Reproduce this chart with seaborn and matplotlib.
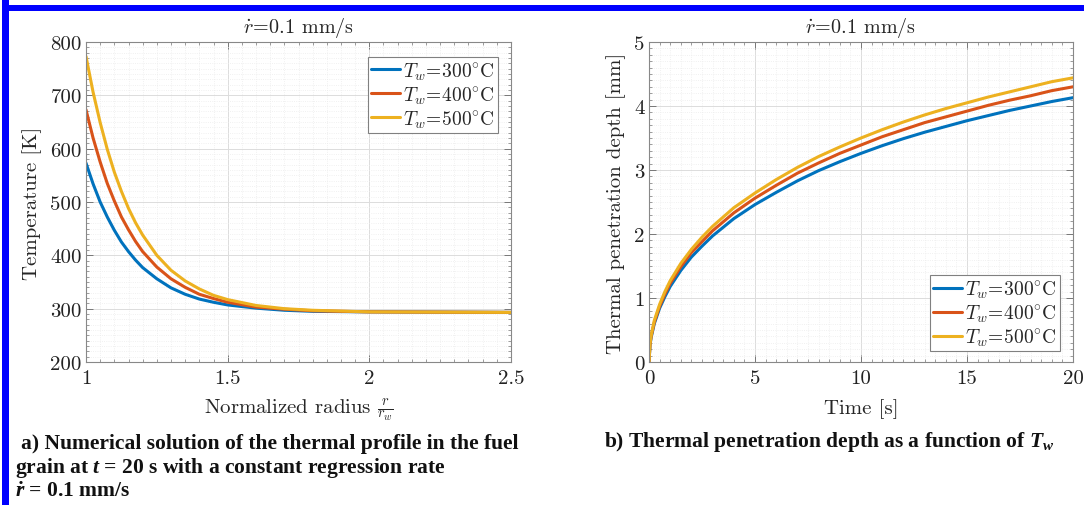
import matplotlib
matplotlib.use("Agg")
import matplotlib.pyplot as plt
import numpy as np
import pandas as pd
import seaborn as sns
from matplotlib.ticker import MultipleLocator, FuncFormatter
from matplotlib.patches import Rectangle

# ---------------------------------------------------------------------------
# Data
# ---------------------------------------------------------------------------
wall_labels = [r"$T_w\!=\!300^{\circ}\mathrm{C}$",
               r"$T_w\!=\!400^{\circ}\mathrm{C}$",
               r"$T_w\!=\!500^{\circ}\mathrm{C}$"]
line_colors = ["#0072BD", "#D95319", "#EDB120"]

# (a) temperature profile at t = 20 s
radius = [1.00, 1.025, 1.05, 1.075, 1.10, 1.125, 1.15, 1.175, 1.20, 1.25,
          1.30, 1.35, 1.40, 1.45, 1.50, 1.60, 1.70, 1.80, 2.00, 2.50]
temp_300 = [573, 534, 500, 472, 447, 425, 407, 391, 377, 356,
            339, 327, 318, 312, 307, 301, 297, 295, 294, 293]
temp_400 = [673, 620, 575, 535, 502, 472, 448, 426, 407, 378,
            356, 340, 327, 319, 312, 303, 299, 296, 294, 293]
temp_500 = [773, 706, 649, 599, 556, 520, 488, 461, 438, 400,
            372, 352, 337, 325, 317, 306, 300, 297, 294, 293]

# (b) thermal penetration depth vs time
time_s = [0, 0.05, 0.1, 0.25, 0.5, 0.75, 1, 1.5, 2, 2.5, 3, 4, 5, 6, 7, 8,
          9, 10, 11, 12, 13, 14, 15, 16, 17, 18, 19, 20]
depth_300 = [0, 0.27, 0.38, 0.60, 0.84, 1.02, 1.18, 1.43, 1.64, 1.81, 1.97,
             2.24, 2.46, 2.65, 2.83, 2.99, 3.13, 3.26, 3.38, 3.49, 3.59, 3.68,
             3.77, 3.85, 3.93, 4.00, 4.07, 4.13]
depth_400 = [0, 0.28, 0.40, 0.62, 0.87, 1.06, 1.23, 1.49, 1.71, 1.88, 2.05,
             2.33, 2.56, 2.76, 2.95, 3.11, 3.26, 3.39, 3.52, 3.63, 3.74, 3.83,
             3.92, 4.01, 4.09, 4.16, 4.24, 4.30]
depth_500 = [0, 0.29, 0.41, 0.65, 0.90, 1.10, 1.27, 1.54, 1.76, 1.95, 2.12,
             2.41, 2.64, 2.85, 3.04, 3.21, 3.36, 3.50, 3.63, 3.75, 3.86, 3.96,
             4.05, 4.14, 4.22, 4.30, 4.38, 4.44]

# ---------------------------------------------------------------------------
# Style
# ---------------------------------------------------------------------------
sns.set_theme(style="ticks")
plt.rcParams.update({
    "font.family": ["cmr10"],
    "mathtext.fontset": "cm",
    "axes.formatter.use_mathtext": True,
    "axes.unicode_minus": False,
    # bold Times-like math for the panel captions
    "mathtext.rm": "Liberation Serif:weight=bold",
    "mathtext.it": "Liberation Serif:style=italic:weight=bold",
    "mathtext.bf": "Liberation Serif:weight=bold",
})

W, H = 1084, 506
fig = plt.figure(figsize=(W / 100, H / 100), dpi=100)
ax1 = fig.add_axes([86 / W, 1 - 363 / H, 425 / W, 320 / H])
ax2 = fig.add_axes([649 / W, 1 - 363 / H, 424 / W, 320 / H])

df_temp = pd.concat([
    pd.DataFrame({"r": radius, "T": t, "case": lab})
    for t, lab in zip([temp_300, temp_400, temp_500], wall_labels)
])
df_depth = pd.concat([
    pd.DataFrame({"t": time_s, "d": d, "case": lab})
    for d, lab in zip([depth_300, depth_400, depth_500], wall_labels)
])

sns.lineplot(data=df_temp, x="r", y="T", hue="case", palette=line_colors,
             linewidth=2.2, ax=ax1, legend=False, estimator=None)
sns.lineplot(data=df_depth, x="t", y="d", hue="case", palette=line_colors,
             linewidth=2.2, ax=ax2, legend=False, estimator=None)

TICK_FS = 15
LABEL_FS = 15
short_fmt = FuncFormatter(lambda v, _: f"{v:g}")


def style_axes(ax, xmaj, xmin, ymaj, ymin):
    ax.xaxis.set_major_locator(MultipleLocator(xmaj))
    ax.xaxis.set_minor_locator(MultipleLocator(xmin))
    ax.yaxis.set_major_locator(MultipleLocator(ymaj))
    ax.yaxis.set_minor_locator(MultipleLocator(ymin))
    ax.xaxis.set_major_formatter(short_fmt)
    ax.yaxis.set_major_formatter(short_fmt)
    ax.set_axisbelow(True)
    ax.grid(which="major", color="#dcdcdc", linewidth=0.7)
    ax.grid(which="minor", color="#ececec", linewidth=0.6, linestyle=":")
    ax.tick_params(which="both", direction="in", top=True, right=True,
                   color="#777777", labelcolor="#222222", labelsize=TICK_FS)
    ax.tick_params(which="major", length=5, width=0.7)
    ax.tick_params(which="minor", length=2.5, width=0.5)
    ax.tick_params(axis="x", which="major", pad=5)
    ax.tick_params(axis="y", which="major", pad=3)
    for sp in ax.spines.values():
        sp.set_color("#888888")
        sp.set_linewidth(0.8)


style_axes(ax1, 0.5, 0.05, 100, 10)
ax1.set_xlim(1, 2.5)
ax1.set_ylim(200, 800)
ax1.set_xlabel(r"Normalized radius $\frac{r}{r_w}$", fontsize=LABEL_FS, labelpad=6)
ax1.set_ylabel("Temperature [K]", fontsize=LABEL_FS, labelpad=6)
ax1.set_title(r"$\dot{r}\!=\!0.1$ mm/s", fontsize=14.5, pad=7)

style_axes(ax2, 5, 0.5, 1, 0.1)
ax2.set_xlim(0, 20)
ax2.set_ylim(0, 5)
ax2.set_xlabel("Time [s]", fontsize=LABEL_FS, labelpad=8)
ax2.set_ylabel("Thermal penetration depth [mm]", fontsize=LABEL_FS, labelpad=6)
ax2.set_title(r"$\dot{r}\!=\!0.1$ mm/s", fontsize=14.5, pad=7)

legend_kw = dict(frameon=True, fancybox=False, framealpha=1, fontsize=14,
                 handlelength=1.5, handletextpad=0.15, labelspacing=0.12,
                 borderpad=0.15, borderaxespad=0)
leg1 = ax1.legend(ax1.get_lines()[:3], wall_labels, loc="upper right",
                  bbox_to_anchor=(0.969, 0.953), **legend_kw)
leg2 = ax2.legend(ax2.get_lines()[:3], wall_labels, loc="lower right",
                  bbox_to_anchor=(0.969, 0.034), **legend_kw)
for leg in (leg1, leg2):
    leg.get_frame().set_edgecolor("#808080")
    leg.get_frame().set_linewidth(0.8)

# Panel captions
cap_kw = dict(fontfamily="Liberation Serif", fontweight="bold", fontsize=15.5,
              va="center", ha="left", color="#111111", math_fontfamily="custom")
fig.text(21 / W, 1 - 444 / H,
         "a) Numerical solution of the thermal profile in the fuel", **cap_kw)
fig.text(15 / W, 1 - 468 / H,
         r"grain at $t$ = 20 s with a constant regression rate", **cap_kw)
fig.text(15 / W, 1 - 492 / H, r"$\dot{r}$ = 0.1 mm/s", **cap_kw)
fig.text(604 / W, 1 - 442 / H,
         r"b) Thermal penetration depth as a function of $T_w$", **cap_kw)

# Blue frame
fig.add_artist(Rectangle((2 / W, 0), 7 / W, 1, transform=fig.transFigure,
                         color="#0000ff", lw=0))
fig.add_artist(Rectangle((2 / W, 1 - 12 / H), 1, 6 / H,
                         transform=fig.transFigure, color="#0000ff", lw=0))

fig.savefig("out.png", dpi=100)
